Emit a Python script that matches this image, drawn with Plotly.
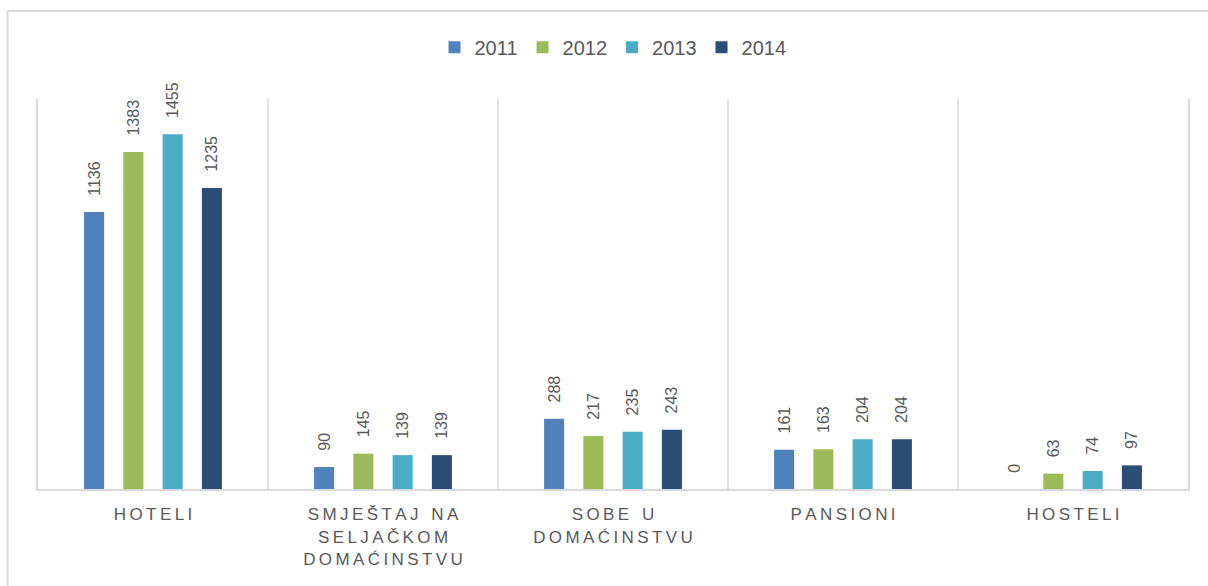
import plotly.graph_objects as go

# Accommodation categories (x axis) and yearly values
categories = [
    "HOTELI",
    "SMJEŠTAJ NA<br>SELJAČKOM<br>DOMAĆINSTVU",
    "SOBE U<br>DOMAĆINSTVU",
    "PANSIONI",
    "HOSTELI",
]
years = ["2011", "2012", "2013", "2014"]
values_2011 = [1136, 90, 288, 161, 0]
values_2012 = [1383, 145, 217, 163, 63]
values_2013 = [1455, 139, 235, 204, 74]
values_2014 = [1235, 139, 243, 204, 97]

series = [values_2011, values_2012, values_2013, values_2014]
colors = ["#4F81BD", "#9BBB59", "#4BACC6", "#2C4D75"]

FONT = "Liberation Sans, Arial, sans-serif"
TEXT_GRAY = "#595959"
GRID = "#D9D9D9"


def tracked(label):
    """Spread letters apart with thin spaces, keeping line breaks."""
    lines = label.split("<br>")
    out = []
    for line in lines:
        words = line.split(" ")
        out.append("\u2009\u00a0\u00a0".join("\u2009".join(w) for w in words))
    return "<br>".join(out)


x_idx = list(range(len(categories)))

fig = go.Figure()
for name, vals, col in zip(years, series, colors):
    fig.add_trace(
        go.Bar(
            name=name,
            x=x_idx,
            y=vals,
            marker=dict(color=col, line=dict(width=0)),
            text=vals,
            texttemplate="\u00a0\u00a0\u00a0%{text}",
            textposition="outside",
            textangle=-90,
            constraintext="none",
            cliponaxis=False,
            textfont=dict(family=FONT, size=16, color=TEXT_GRAY),
        )
    )

fig.update_layout(
    width=1208,
    height=586,
    margin=dict(l=38, r=20, t=99, b=97),
    paper_bgcolor="white",
    plot_bgcolor="white",
    barmode="group",
    bargap=0.317,
    bargroupgap=0.49,
    showlegend=True,
    legend=dict(
        orientation="h",
        x=0.5,
        xanchor="center",
        y=1.133,
        yanchor="middle",
        font=dict(family=FONT, size=20, color=TEXT_GRAY),
        itemwidth=30,
        traceorder="normal",
    ),
)

fig.update_xaxes(
    type="linear",
    range=[-0.5, len(categories) - 0.5],
    tickmode="array",
    tickvals=x_idx,
    ticktext=[tracked(c) for c in categories],
    tickfont=dict(family=FONT, size=17, color=TEXT_GRAY),
    ticks="",
    ticklabelstandoff=9,
    showgrid=False,
    zeroline=False,
    showline=True,
    linecolor=GRID,
    linewidth=2,
    fixedrange=True,
)

fig.update_yaxes(
    range=[0, 1600],
    showticklabels=False,
    showgrid=False,
    zeroline=False,
    showline=True,
    linecolor=GRID,
    linewidth=1.5,
    mirror=True,
    ticks="",
    fixedrange=True,
)

# Vertical separators between category groups
for b in range(1, len(categories)):
    fig.add_shape(
        type="line",
        xref="x",
        yref="paper",
        x0=b - 0.5,
        x1=b - 0.5,
        y0=0,
        y1=1,
        line=dict(color=GRID, width=1.5),
        layer="below",
    )

# Chart frame (top and left edges)
fig.add_shape(
    type="line", xref="paper", yref="paper",
    x0=-0.0265, x1=1.05, y0=1.2256, y1=1.2256,
    line=dict(color=GRID, width=2),
)
fig.add_shape(
    type="line", xref="paper", yref="paper",
    x0=-0.0265, x1=-0.0265, y0=1.2256, y1=-0.3,
    line=dict(color=GRID, width=2),
)

fig.write_html("out.html")
